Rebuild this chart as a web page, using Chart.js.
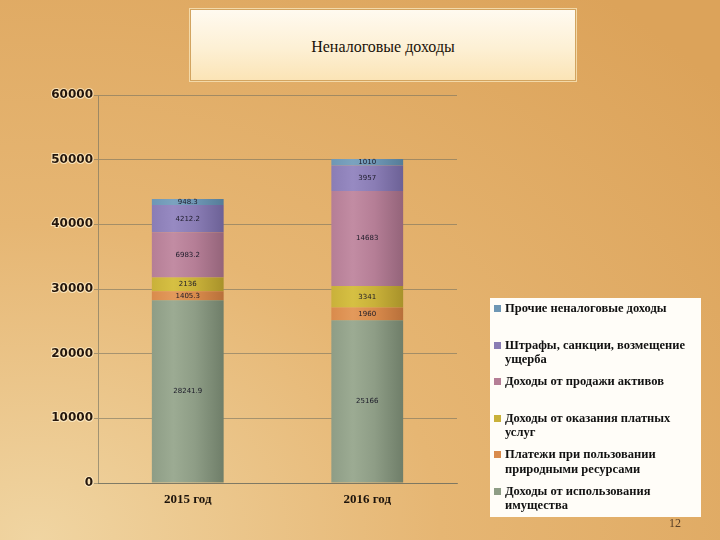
<!DOCTYPE html>
<html>
<head>
<meta charset="utf-8">
<title>Неналоговые доходы</title>
<script src="https://cdn.jsdelivr.net/npm/chart.js@4.4.1/dist/chart.umd.min.js"></script>
<style>
    html, body { margin: 0; padding: 0; }
    body {
        width: 720px; height: 540px; position: relative; overflow: hidden;
        background: radial-gradient(ellipse 900px 700px at 5% 100%, #f0d5a2 0%, #e6b673 45%, #dca35a 100%);
    }
    #titleBox {
        position: absolute; left: 190px; top: 9px; width: 384px; height: 70px;
        border: 1px solid #d2a460;
        background: linear-gradient(180deg, #fffaf0 0%, #fdf0d4 55%, #fbe4b6 100%);
        box-shadow: 0 0 0 1px #f3d9a8;
        font: 16px "Liberation Serif", serif; color: #1a1208;
        text-align: center; line-height: 74px;
    }
    #chartWrap { position: absolute; left: 0; top: 0; width: 720px; height: 540px; }
    #legendBox {
        position: absolute; left: 490px; top: 298px; width: 211px; height: 219px;
        background: #fffdf8; box-sizing: border-box; padding: 3px 0 0 4px;
        font: bold 12.5px "Liberation Serif", serif; color: #111;
    }
    .legItem { position: relative; height: 36.6px; padding-left: 11px; line-height: 14.5px; width: 188px; }
    .legSwatch { position: absolute; left: 0; top: 4px; width: 7px; height: 7px; }
    #pageNo { position: absolute; left: 669px; top: 516px; font: 12px "Liberation Serif", serif; color: #5a4026; }
</style>
</head>
<body>
<div id="titleBox">Неналоговые доходы</div>
<div id="chartWrap"><canvas id="barChart" width="720" height="540"></canvas></div>
<div id="legendBox"></div>
<div id="pageNo">12</div>
<script>
var years = ['2015 год', '2016 год'];
var seriesNames = [
    'Доходы от использования имущества',
    'Платежи при пользовании природными ресурсами',
    'Доходы от оказания платных услуг',
    'Доходы от продажи активов',
    'Штрафы, санкции, возмещение ущерба',
    'Прочие неналоговые доходы'
];
var propertyIncome   = [28241.9, 25166];
var resourcePayments = [1405.3, 1960];
var paidServices     = [2136, 3341];
var assetSales       = [6983.2, 14683];
var finesDamages     = [4212.2, 3957];
var otherIncome      = [948.3, 1010];
var yTicks = [0, 10000, 20000, 30000, 40000, 50000, 60000];

// light / mid / dark shade per series, bottom to top
var shades = [
    ['#9cab93', '#8e9d86', '#6f7e69'],
    ['#e39a5c', '#d98b4c', '#b8703a'],
    ['#d6c043', '#c9b13a', '#a8922a'],
    ['#c28ca3', '#b57e96', '#94647a'],
    ['#978ac2', '#8a7db5', '#6c6196'],
    ['#7ba3bf', '#6e97b5', '#557c98']
];

var seriesValues = [propertyIncome, resourcePayments, paidServices, assetSales, finesDamages, otherIncome];

function barFill(sh) {
    return function (ctx) {
        var chart = ctx.chart;
        if (!chart.chartArea || ctx.type !== 'data') return sh[1];
        var xs = chart.scales.x;
        var cx = xs.getPixelForValue(ctx.dataIndex);
        var half = (xs.width / years.length) * 0.4 / 2;
        var g = chart.ctx.createLinearGradient(cx - half, 0, cx + half, 0);
        g.addColorStop(0, sh[1]);
        g.addColorStop(0.3, sh[0]);
        g.addColorStop(0.6, sh[1]);
        g.addColorStop(1, sh[2]);
        return g;
    };
}

var segmentLabels = {
    id: 'segmentLabels',
    afterDatasetsDraw: function (chart) {
        var c = chart.ctx;
        c.save();
        c.font = '7px "DejaVu Sans"';
        c.fillStyle = '#1b1a28';
        c.textAlign = 'center';
        c.textBaseline = 'middle';
        chart.data.datasets.forEach(function (ds, i) {
            chart.getDatasetMeta(i).data.forEach(function (bar, j) {
                c.fillText(String(ds.data[j]), bar.x, (bar.y + bar.base) / 2);
            });
        });
        c.restore();
    }
};

var datasets = seriesNames.map(function (name, i) {
    return {
        label: name,
        data: seriesValues[i],
        backgroundColor: barFill(shades[i]),
        borderWidth: 0,
        categoryPercentage: 0.8,
        barPercentage: 0.5
    };
});

var barChart = new Chart(document.getElementById('barChart'), {
    type: 'bar',
    data: { labels: years, datasets: datasets },
    options: {
        responsive: false,
        animation: false,
        layout: { padding: { top: 95, right: 263, bottom: 20, left: 0 } },
        plugins: { legend: { display: false }, title: { display: false }, tooltip: { enabled: false } },
        scales: {
            x: {
                stacked: true,
                grid: { display: false, drawTicks: false },
                border: { display: true, color: 'rgba(110,110,95,0.7)' },
                ticks: { padding: 9, color: '#1d140c', font: { family: '"Liberation Serif"', size: 13, weight: 'bold' } },
                afterFit: function (scale) { scale.height = 37; }
            },
            y: {
                stacked: true,
                min: 0, max: 60000,
                afterBuildTicks: function (scale) { scale.ticks = yTicks.map(function (v) { return { value: v }; }); },
                grid: { color: 'rgba(110,110,95,0.55)', tickLength: 4 },
                border: { display: true, color: 'rgba(110,110,95,0.6)' },
                ticks: {
                    padding: 1,
                    color: '#24160c',
                    textStrokeColor: 'rgba(255,238,200,0.8)',
                    textStrokeWidth: 2,
                    font: { family: '"DejaVu Sans"', size: 12, weight: 'bold' },
                    callback: function (v) { return String(v); }
                },
                afterFit: function (scale) { scale.width = 98; }
            }
        }
    },
    plugins: [segmentLabels]
});

// legend, top series first
var legendBox = document.getElementById('legendBox');
for (var i = seriesNames.length - 1; i >= 0; i--) {
    var item = document.createElement('div');
    item.className = 'legItem';
    var sw = document.createElement('span');
    sw.className = 'legSwatch';
    sw.style.background = shades[i][1];
    item.appendChild(sw);
    item.appendChild(document.createTextNode(seriesNames[i]));
    legendBox.appendChild(item);
}
</script>
</body>
</html>
